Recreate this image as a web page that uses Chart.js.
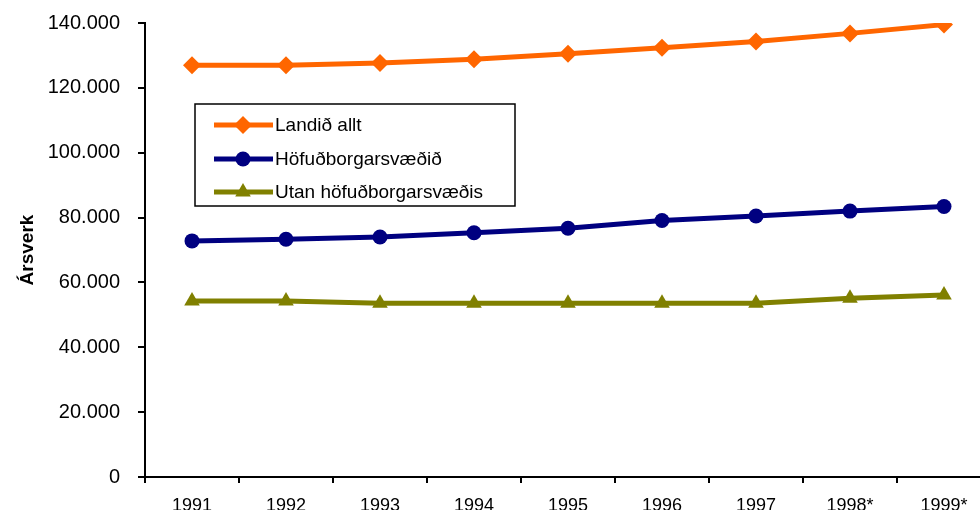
<!DOCTYPE html>
<html>
<head>
<meta charset="utf-8">
<script src="https://cdn.jsdelivr.net/npm/chart.js@4/dist/chart.umd.min.js"></script>
<style>
  html, body { margin: 0; padding: 0; background: #fff; overflow: hidden; }
  #wrap { position: absolute; left: 0; top: 0; }
</style>
</head>
<body>
<div id="wrap"><canvas id="chartCanvas" width="1000" height="522"></canvas></div>
<script>
// Gögn (lesin af myndinni)
const years = ['1991', '1992', '1993', '1994', '1995', '1996', '1997', '1998*', '1999*'];
const landidAllt = [127000, 127000, 127700, 128800, 130500, 132400, 134300, 136800, 139500];
const hofudborg = [72800, 73300, 74000, 75300, 76700, 79100, 80500, 82000, 83400];
const utan = [54300, 54300, 53600, 53600, 53600, 53600, 53600, 55100, 56100];
const yTicks = [0, 20000, 40000, 60000, 80000, 100000, 120000, 140000];

const FONT = 'Arial, "Liberation Sans", sans-serif';

// Legend inni í teiknisvæðinu, með ramma
const boxLegend = {
    id: 'boxLegend',
    afterDraw(chart) {
        const ctx = chart.ctx;
        const x0 = 195, y0 = 104, w = 320, h = 102;
        ctx.save();
        ctx.fillStyle = '#fff';
        ctx.fillRect(x0, y0, w, h);
        ctx.strokeStyle = '#000';
        ctx.lineWidth = 1.5;
        ctx.strokeRect(x0, y0, w, h);
        const rows = [125, 159, 192];
        chart.data.datasets.forEach((ds, i) => {
            const y = rows[i];
            ctx.strokeStyle = ds.borderColor;
            ctx.lineWidth = ds.borderWidth;
            ctx.beginPath();
            ctx.moveTo(214, y);
            ctx.lineTo(273, y);
            ctx.stroke();
            ctx.fillStyle = ds.backgroundColor;
            if (Chart.helpers && Chart.helpers.drawPoint) {
                Chart.helpers.drawPoint(ctx, {
                    pointStyle: ds.pointStyle,
                    radius: ds.pointRadius,
                    rotation: 0,
                    borderWidth: 0
                }, 243, y);
            }
            ctx.fillStyle = '#000';
            ctx.font = '19px ' + FONT;
            ctx.textBaseline = 'middle';
            ctx.textAlign = 'left';
            ctx.fillText(ds.label, 275, y + 1);
        });
        ctx.restore();
    }
};

const ctx = document.getElementById('chartCanvas').getContext('2d');
const chart = new Chart(ctx, {
    type: 'line',
    data: {
        labels: years,
        datasets: [{
            label: 'Landið allt',
            data: landidAllt,
            borderColor: '#FF6600',
            backgroundColor: '#FF6600',
            borderWidth: 5,
            pointStyle: 'rectRot',
            pointRadius: 9,
            pointBorderWidth: 0
        }, {
            label: 'Höfuðborgarsvæðið',
            data: hofudborg,
            borderColor: '#000080',
            backgroundColor: '#000080',
            borderWidth: 5,
            pointStyle: 'circle',
            pointRadius: 7.5,
            pointBorderWidth: 0
        }, {
            label: 'Utan höfuðborgarsvæðis',
            data: utan,
            borderColor: '#808000',
            backgroundColor: '#808000',
            borderWidth: 5,
            pointStyle: 'triangle',
            pointRadius: 9,
            pointBorderWidth: 0
        }]
    },
    options: {
        responsive: false,
        animation: false,
        devicePixelRatio: 1,
        layout: { padding: { top: 23, right: 9, left: 0, bottom: 0 } },
        plugins: {
            legend: { display: false },
            tooltip: { enabled: false }
        },
        scales: {
            x: {
                offset: true,
                grid: {
                    offset: true,
                    drawOnChartArea: false,
                    drawTicks: true,
                    tickLength: 6,
                    color: '#000',
                    lineWidth: 2
                },
                border: { color: '#000', width: 2 },
                ticks: {
                    color: '#000',
                    font: { family: FONT, size: 18 },
                    padding: 12,
                    maxRotation: 0,
                    autoSkip: false
                },
                afterFit(scale) {
                    scale.height = 522 - 477;
                    scale.paddingLeft = 0;
                    scale.paddingRight = 0;
                }
            },
            y: {
                min: 0,
                max: 140000,
                afterBuildTicks(scale) { scale.ticks = yTicks.map(v => ({ value: v })); },
                grid: {
                    drawOnChartArea: false,
                    drawTicks: true,
                    tickLength: 7,
                    color: '#000',
                    lineWidth: 2
                },
                border: { color: '#000', width: 2 },
                ticks: {
                    color: '#000',
                    font: { family: FONT, size: 20 },
                    padding: 18,
                    callback: v => v === 0 ? '0' : (v / 1000) + '.000'
                },
                title: {
                    display: true,
                    text: 'Ársverk',
                    color: '#000',
                    font: { family: FONT, size: 19, weight: 'bold' },
                    padding: { top: 16, bottom: 0 }
                },
                afterFit(scale) {
                    scale.width = 145;
                    scale.paddingTop = 0;
                    scale.paddingBottom = 0;
                }
            }
        }
    },
    plugins: [boxLegend]
});
</script>
</body>
</html>
